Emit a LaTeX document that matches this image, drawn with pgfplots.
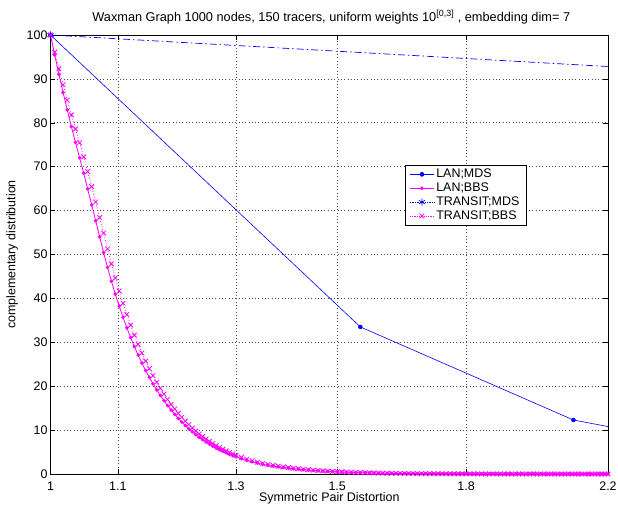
\documentclass[border=0pt]{standalone}
\usepackage{fontspec}
\setmainfont{Liberation Sans}
\usepackage{pgfplots}
\pgfplotsset{compat=1.18}
\usepackage{pgfplotstable}
\definecolor{mblue}{RGB}{0,0,255}
\definecolor{mmag}{RGB}{255,0,255}

\pgfplotstableread{
x lan tr
1.000 100 100
1.006 95.43 96.07
1.012 91.06 92.29
1.018 86.90 88.66
1.024 82.93 85.17
1.030 79.14 81.81
1.036 75.52 78.58
1.042 72.05 75.45
1.048 68.54 72.24
1.054 64.95 68.90
1.060 61.32 65.46
1.066 57.68 61.96
1.072 54.04 58.42
1.078 50.45 54.88
1.084 47.05 51.28
1.090 43.91 47.86
1.096 40.98 44.67
1.102 38.25 41.69
1.108 35.70 38.91
1.114 33.32 36.32
1.120 31.10 33.90
1.126 29.02 31.63
1.132 27.09 29.53
1.138 25.28 27.56
1.144 23.60 25.72
1.150 22.02 24.00
1.156 20.55 22.40
1.162 19.19 20.92
1.168 17.91 19.52
1.174 16.71 18.21
1.180 15.60 17.00
1.186 14.56 15.87
1.192 13.59 14.81
1.198 12.68 13.82
1.204 11.84 12.91
1.210 11.05 12.04
1.216 10.31 11.24
1.222 9.62 10.49
1.228 8.98 9.79
1.234 8.38 9.13
1.240 7.82 8.52
1.246 7.30 7.96
1.252 6.82 7.43
1.258 6.36 6.93
1.264 5.94 6.47
1.270 5.54 6.04
1.276 5.17 5.64
1.282 4.83 5.26
1.288 4.50 4.91
1.294 4.20 4.58
1.300 3.92 4.27
1.31 3.49 3.80
1.32 3.11 3.39
1.33 2.78 3.03
1.34 2.47 2.69
1.35 2.20 2.40
1.36 1.99 2.17
1.37 1.80 1.96
1.38 1.63 1.78
1.39 1.48 1.61
1.40 1.34 1.46
1.41 1.21 1.32
1.42 1.10 1.20
1.43 0.99 1.08
1.44 0.90 0.98
1.45 0.81 0.88
1.46 0.73 0.80
1.47 0.66 0.72
1.48 0.60 0.65
1.49 0.54 0.59
1.50 0.49 0.53
1.51 0.44 0.48
1.52 0.40 0.44
1.53 0.36 0.39
1.54 0.33 0.36
1.55 0.30 0.33
1.56 0.27 0.29
1.57 0.24 0.26
1.58 0.22 0.24
1.59 0.20 0.22
1.60 0.18 0.20
1.61 0.16 0.17
1.62 0.15 0.16
1.63 0.13 0.14
1.64 0.12 0.13
1.65 0.11 0.12
1.66 0.10 0.11
1.67 0.09 0.10
1.68 0.08 0.09
1.69 0.07 0.08
1.70 0.07 0.08
1.71 0.06 0.07
1.72 0.06 0.07
1.73 0.05 0.06
1.74 0.05 0.05
1.75 0.04 0.05
1.76 0.04 0.04
1.77 0.04 0.04
1.78 0.03 0.04
1.79 0.03 0.03
1.80 0.03 0.03
1.81 0.02 0.03
1.82 0.02 0.03
1.83 0.02 0.03
1.84 0.02 0.02
1.85 0.02 0.02
1.86 0.02 0.02
1.87 0.02 0.02
1.88 0.02 0.02
1.89 0.02 0.02
1.90 0.02 0.02
1.91 0.01 0.01
1.92 0.01 0.01
1.93 0.01 0.01
1.94 0.01 0.01
1.95 0.01 0.01
1.96 0.01 0.01
1.97 0.01 0.01
1.98 0.01 0.01
1.99 0.01 0.01
2.00 0.01 0.01
2.01 0 0
2.02 0 0
2.03 0 0
2.04 0 0
2.05 0 0
2.06 0 0
2.07 0 0
2.08 0 0
2.09 0 0
2.10 0 0
2.11 0 0
2.12 0 0
2.13 0 0
2.14 0 0
2.15 0 0
2.16 0 0
2.17 0 0
2.18 0 0
2.19 0 0
2.20 0 0
}\bbs

\begin{document}
\begin{tikzpicture}
\begin{axis}[
  scale only axis, width=557.5bp, height=439bp,
  xmode=log, xmin=1, xmax=2.2, ymin=0, ymax=100,
  xtick={1,1.1,1.3,1.5,1.8,2.2}, xticklabels={1,1.1,1.3,1.5,1.8,2.2},
  ytick={0,10,20,30,40,50,60,70,80,90,100},
  minor xtick={}, minor ytick={},
  tick align=inside, major tick length=5bp,
  grid=major,
  grid style={black!70, line width=0.6bp, dash pattern=on 0.7bp off 2.6bp},
  axis line style={black, line width=0.5bp},
  every tick/.style={black, line width=0.5bp},
  tick label style={font=\fontsize{12.5}{14}\selectfont},
  xticklabel style={anchor=base, yshift=-16.5bp},
  yticklabel style={xshift=0.5bp},
  /pgf/number format/assume math mode=true,
  clip mode=individual,
  title={Waxman Graph 1000 nodes, 150 tracers, uniform weights 10\textsuperscript{[0,3]}\ , embedding dim= 7},
  title style={at={(axis description cs:0.5,1)}, anchor=base, yshift=8bp, xshift=2bp, font=\fontsize{12.8}{14}\selectfont},
  xlabel={Symmetric Pair Distortion},
  xlabel style={at={(axis description cs:0.5,0)}, anchor=base, yshift=-27.5bp, font=\fontsize{12.5}{14}\selectfont},
  ylabel={complementary distribution},
  ylabel style={at={(axis description cs:-0.069,0.5)}, anchor=center, font=\fontsize{12.5}{14}\selectfont},
  legend style={at={(0.621,0.704)}, anchor=north west, xshift=8bp, draw=black, line width=0.6bp, fill=white,
    font=\fontsize{12.5}{14}\selectfont, inner xsep=4.5bp, inner ysep=2bp, row sep=-0.3bp, cells={anchor=west}},
  legend image code/.code={\draw[mark repeat=2,mark phase=2] plot coordinates {(0bp,0bp)(12bp,0bp)(24bp,0bp)};},
]
\coordinate (bl) at (rel axis cs:0,0);
\coordinate (tr) at (rel axis cs:1,1);
% LAN;MDS
\addplot[forget plot, mblue, line width=0.6bp, no marks] coordinates {(1,100)(1.55,33.5)(2.095,12.3)(2.6,5.7)};
\addplot[forget plot, mblue, only marks, mark=*, mark size=2bp] coordinates {(1,100)(1.55,33.5)(2.095,12.3)};
% LAN;BBS
\addplot[forget plot, mmag, line width=0.8bp, mark=*, mark size=1.4bp] table[x=x,y=lan]{\bbs};
% TRANSIT;MDS
\addplot[forget plot, mblue, line width=0.7bp, dash pattern=on 7bp off 3bp on 1.5bp off 3bp, no marks] coordinates {(1,100)(2.6,91.3)};
\addplot[forget plot, mblue, only marks, mark=asterisk, mark size=3.5bp, line width=0.7bp] coordinates {(1,100)};
% TRANSIT;BBS
\addplot[forget plot, mmag, line width=0.8bp, dotted, mark=x, mark size=3.3bp, mark options={solid}] table[x=x,y=tr]{\bbs};

\addlegendimage{mblue, line width=0.6bp, mark=*, mark size=2bp}
\addlegendentry{LAN;MDS}
\addlegendimage{mmag, line width=0.8bp, mark=*, mark size=1.4bp}
\addlegendentry{LAN;BBS}
\addlegendimage{mblue, line width=0.7bp, densely dotted, mark=asterisk, mark size=3.5bp, mark options={solid}}
\addlegendentry{TRANSIT;MDS}
\addlegendimage{mmag, line width=0.8bp, densely dotted, mark=x, mark size=3.3bp, mark options={solid}}
\addlegendentry{TRANSIT;BBS}
\end{axis}
\pgfresetboundingbox
\path[use as bounding box] ([xshift=-50.5bp,yshift=-32bp]bl) rectangle ([xshift=10bp,yshift=35bp]tr);
\end{tikzpicture}
\end{document}
